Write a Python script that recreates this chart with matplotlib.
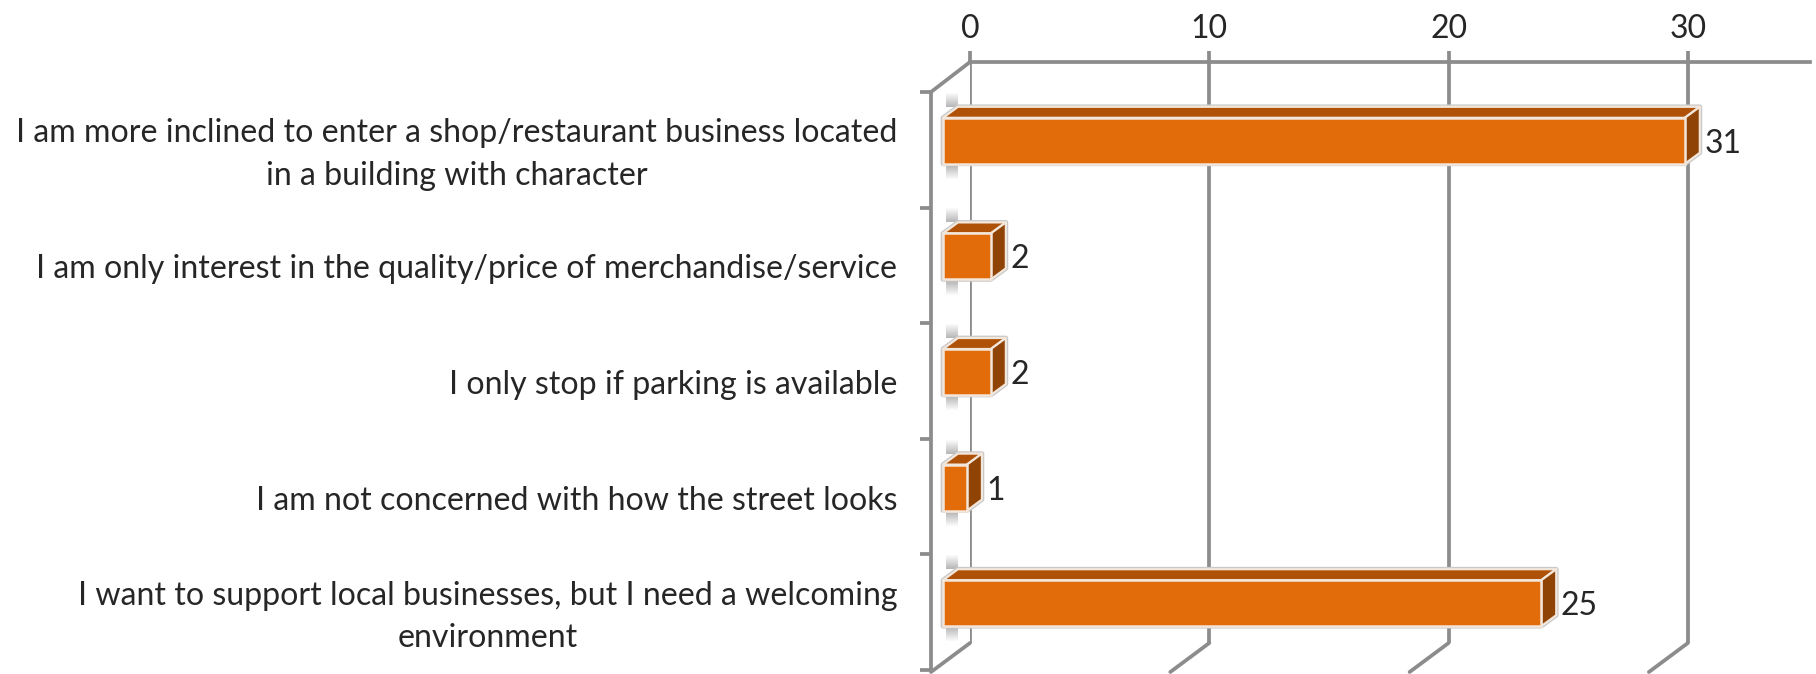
import matplotlib
matplotlib.use("Agg")
import matplotlib.pyplot as plt
from matplotlib.patches import Polygon, Rectangle
from matplotlib.transforms import Affine2D

categories = [
    "I am more inclined to enter a shop/restaurant business located\nin a building with character",
    "I am only interest in the quality/price of merchandise/service",
    "I only stop if parking is available",
    "I am not concerned with how the street looks",
    "I want to support local businesses, but I need a welcoming\nenvironment",
]
values = [31, 2, 2, 1, 25]
xticks = [0, 10, 20, 30]

W, H = 1816, 674
GRID = "#8c8c8c"
FACE, TOP, SIDE = "#E36C0A", "#AF5208", "#8F4304"
TXT = "#262626"
FONT = "Lato"
FS_TICK = 23
FS_CAT = 23.15
LW = 2.7

PXU = 23.93            # pixels per unit
XMAX = 35.1
plt.rcParams["font.family"] = [FONT, "DejaVu Sans"]
fig = plt.figure(figsize=(W / 100, H / 100), dpi=100)

def rect(x0, y0, x1, y1):
    return [x0 / W, 1 - y1 / H, (x1 - x0) / W, (y1 - y0) / H]

# back wall
back = fig.add_axes(rect(970, 62, 970 + XMAX * PXU, 643), facecolor="none")
back.set_xlim(0, XMAX)
back.set_ylim(0, 1)
for s in ("left", "right", "bottom"):
    back.spines[s].set_visible(False)
back.spines["top"].set_color(GRID)
back.spines["top"].set_linewidth(LW)
back.xaxis.tick_top()
back.set_xticks(xticks)
back.set_xticklabels([str(t) for t in xticks], fontsize=FS_TICK, color=TXT)
back.tick_params(axis="x", length=8, width=LW, color=GRID, pad=5)
back.set_yticks([])
back.grid(axis="x", color=GRID, lw=LW)
back.set_axisbelow(True)

# front plane with category axis
ax = fig.add_axes(rect(931, 92, 931 + XMAX * PXU, 670), facecolor="none")
n = len(categories)
ax.set_xlim(0, XMAX)
ax.set_ylim(n - 0.5, -0.5)
for s in ("top", "right", "bottom"):
    ax.spines[s].set_visible(False)
ax.spines["left"].set_color(GRID)
ax.spines["left"].set_linewidth(LW)
ax.set_xticks([])
ax.set_yticks([i - 0.5 for i in range(n + 1)])
ax.set_yticklabels([])
ax.tick_params(axis="y", which="major", length=8, width=LW, color=GRID)
ax.set_yticks(range(n), labels=categories, minor=True)
ax.tick_params(axis="y", which="minor", length=0, pad=24.2, labelsize=FS_CAT, labelcolor=TXT)
for label, cat in zip(ax.get_yticklabels(minor=True), categories):
    label.set_multialignment("center")
    label.set_linespacing(1.52)
    shift = 4.5 if "\n" in cat else -1
    label.set_transform(label.get_transform() + Affine2D().translate(0, shift))

# floor and side-wall connectors (back plane -> front plane)
unit_y = (670 - 92) / n
def conn(x0, y0, x1, y1):
    fig.add_artist(plt.Line2D([x0 / W, x1 / W], [1 - y0 / H, 1 - y1 / H],
                              color=GRID, lw=LW, solid_capstyle="round", zorder=1))
conn(970, 62, 931, 92)
for t in xticks:
    bx = 970 + t * PXU
    conn(bx, 643, bx - 39, 672)

# bar plane: shifted 12 px right and 9 px up from the front plane
bar_tr = ax.transData + Affine2D().translate(12, 9)
h = 46 / unit_y
dx = 15 / PXU
dy = 11 / unit_y
EDGE = "#f3e6da"
HALO = "#c9c9c9"

for i, v in enumerate(values):
    yt, yb = i - h / 2, i + h / 2
    # soft reflection strips above and below the bar
    strips = 14
    for k in range(strips):
        a = 0.5 * (1 - k / strips)
        sh = 1.0 / unit_y
        ax.add_patch(Rectangle((0.12, yt - dy - (k + 1) * sh), 0.5, sh * 1.1, facecolor="#707070",
                               edgecolor="none", alpha=a, transform=bar_tr, zorder=3))
        ax.add_patch(Rectangle((0.12, yb + k * sh + 0.01), 0.5, sh * 1.1, facecolor="#707070",
                               edgecolor="none", alpha=a, transform=bar_tr, zorder=3))
    outline = [(0, yt), (dx, yt - dy), (v + dx, yt - dy), (v + dx, yb - dy), (v, yb), (0, yb)]
    ax.add_patch(Polygon(outline, closed=True, facecolor="none", edgecolor=HALO, lw=3.4,
                         joinstyle="round", transform=bar_tr, zorder=4))
    ax.add_patch(Polygon([(0, yt), (dx, yt - dy), (v + dx, yt - dy), (v, yt)], closed=True,
                         facecolor=TOP, edgecolor=EDGE, lw=1.6, joinstyle="round",
                         transform=bar_tr, zorder=5))
    ax.add_patch(Polygon([(v, yt), (v + dx, yt - dy), (v + dx, yb - dy), (v, yb)], closed=True,
                         facecolor=SIDE, edgecolor=EDGE, lw=1.6, joinstyle="round",
                         transform=bar_tr, zorder=5))
bars = ax.barh(range(n), values, height=h, color=FACE, edgecolor=EDGE, linewidth=1.8,
               transform=bar_tr, zorder=6)
ax.set_xlim(0, XMAX)
ax.set_ylim(n - 0.5, -0.5)
for i, v in enumerate(values):
    ax.annotate(str(v), xy=(v, i), xycoords=bar_tr, xytext=(14, 0), textcoords="offset points",
                ha="left", va="center_baseline", fontsize=FS_TICK, color=TXT, zorder=7)

fig.savefig("out.png", dpi=100, facecolor="white")
